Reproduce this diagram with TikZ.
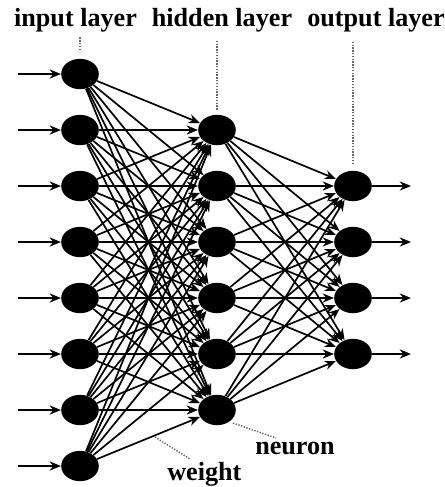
\documentclass[tikz,border=0pt]{standalone}
\usepackage{fontspec}
\setmainfont{Liberation Serif}
\usetikzlibrary{arrows.meta,positioning,shapes.geometric}

\begin{document}
\begin{tikzpicture}[x=0.025cm,y=-0.025cm,>={Stealth[length=8pt,width=6.5pt]},
    font=\fontsize{18.6}{20}\selectfont\bfseries,
    neuron/.style={ellipse,fill=black,inner sep=0pt,
                   minimum width=0.94cm,minimum height=0.76cm},
    link/.style={->,line width=1.2pt},
    pointer/.style={densely dotted,gray!80!black,line width=1pt}]
  \useasboundingbox (0,0) rectangle (445,487);
  % neurons
  \foreach \i in {1,...,8}
    \node[neuron] (in\i) at (80,{18+56*\i}) {};
  \foreach \j in {1,...,6}
    \node[neuron] (hid\j) at (217,{74+56*\j}) {};
  \foreach \k in {1,...,4}
    \node[neuron] (out\k) at (353,{130+56*\k}) {};
  % weights
  \foreach \i in {1,...,8}
    \foreach \j in {1,...,6}
      \draw[link] (in\i) -- (hid\j);
  \foreach \j in {1,...,6}
    \foreach \k in {1,...,4}
      \draw[link] (hid\j) -- (out\k);
  % inputs and outputs
  \foreach \i in {1,...,8} {
    \coordinate (src\i) at (18,{18+56*\i});
    \draw[link,line width=1.4pt] (src\i) -- (in\i);
  }
  \foreach \k in {1,...,4} {
    \coordinate (dst\k) at (411,{130+56*\k});
    \draw[link,line width=1.4pt] (out\k) -- (dst\k);
  }
  % labels
  \node[anchor=base] (lblin) at (75.5,26) {input layer};
  \node[anchor=base] (lblhid) at (222,26) {hidden layer};
  \node[anchor=base] (lblout) at (376,26) {output layer};
  \draw[pointer] ([yshift=6pt]in1.north) -- ([yshift=15.3pt]in1.north);
  \draw[pointer] ([yshift=3.5pt]hid1.north) -- ([yshift=52.5pt]hid1.north);
  \draw[pointer] ([yshift=4.6pt]out1.north) -- ([yshift=92pt]out1.north);
  \node[anchor=base west,inner sep=0pt] (lblneuron) at (255,454) {neuron};
  \node[anchor=base west,inner sep=0pt] (lblweight) at (167,480) {weight};
  \coordinate (neutip) at (233,423);
  \coordinate (neuend) at (276,438);
  \coordinate (weitip) at (155,437);
  \coordinate (weiend) at (190,459);
  \draw[pointer] (neutip) -- (neuend);
  \draw[pointer] (weitip) -- (weiend);
\end{tikzpicture}
\end{document}
